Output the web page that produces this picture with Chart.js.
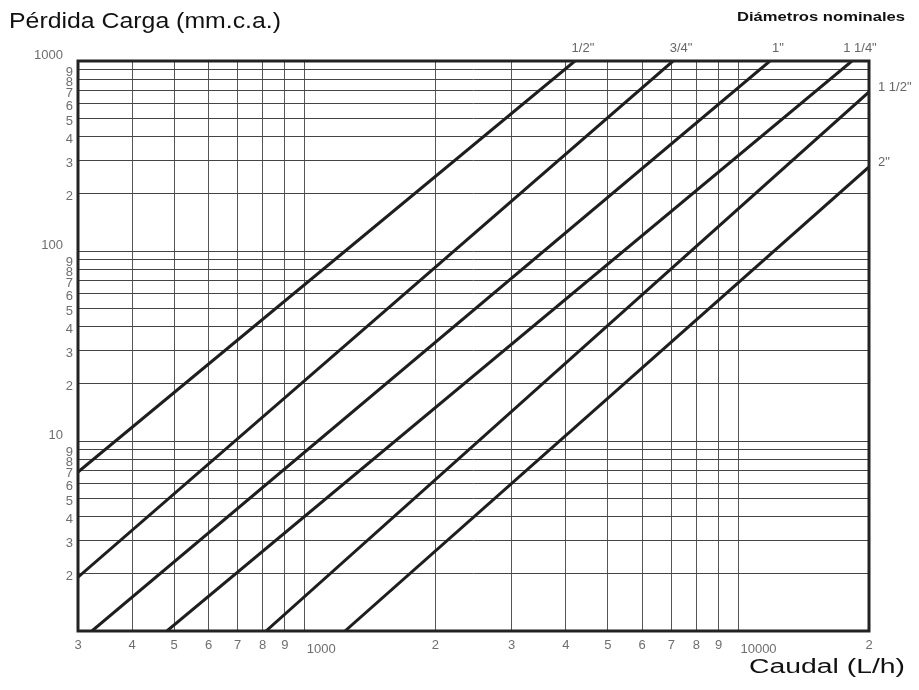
<!DOCTYPE html>
<html>
<head>
<meta charset="utf-8">
<script src="https://cdn.jsdelivr.net/npm/chart.js@4.4.0/dist/chart.umd.min.js"></script>
<style>
  body { margin: 0; background: #fff; }
  canvas { display: block; }
</style>
</head>
<body>
<canvas id="grafico" width="919" height="690"></canvas>
<script>
'use strict';

/* Datos */
const diametros = ['1/2"', '3/4"', '1"', '1 1/4"', '1 1/2"', '2"'];
const caudalInicio = [300, 300, 323, 481, 814, 1238];
const perdidaInicio = [6.87, 1.92, 1, 1, 1, 1];
const caudalFin = [4197, 7065, 11820, 18270, 20000, 20000];
const perdidaFin = [1000, 1000, 1000, 1000, 687, 277];

const ticksCaudal = [300, 400, 500, 600, 700, 800, 900, 1000, 2000, 3000, 4000,
    5000, 6000, 7000, 8000, 9000, 10000, 20000];
const ticksPerdida = [1, 2, 3, 4, 5, 6, 7, 8, 9, 10, 20, 30, 40, 50, 60, 70, 80, 90,
    100, 200, 300, 400, 500, 600, 700, 800, 900, 1000];

const datasets = diametros.map((d, i) => ({
    label: d,
    data: [{ x: caudalInicio[i], y: perdidaInicio[i] }, { x: caudalFin[i], y: perdidaFin[i] }],
    showLine: true,
    borderColor: '#1e1e1e',
    borderWidth: 3,
    pointRadius: 0
}));

function esPotencia(v) {
    return Math.abs(Math.log10(v) - Math.round(Math.log10(v))) < 1e-9;
}
function mantisa(v) {
    return String(Math.round(v / Math.pow(10, Math.floor(Math.log10(v) + 1e-9))));
}

// texto ajustado a un ancho dado
function texto(ctx, t, x, y, font, ancho, align) {
    ctx.font = font;
    const w = ctx.measureText(t).width;
    const k = ancho ? ancho / w : 1;
    ctx.save();
    ctx.translate(x, y);
    ctx.scale(k, 1);
    ctx.textAlign = align || 'left';
    ctx.fillText(t, 0, 0);
    ctx.restore();
}

/* Marco, etiquetas y titulos */
const dibujo = {
    id: 'dibujo',
    afterDraw(chart) {
        const { ctx, chartArea: a, scales: { x, y } } = chart;
        ctx.save();
        ctx.strokeStyle = '#222';
        ctx.lineWidth = 3;
        ctx.strokeRect(a.left, a.top, a.right - a.left, a.bottom - a.top);

        ctx.fillStyle = '#6e6e6e';
        ctx.textBaseline = 'middle';
        const f = '13px "Liberation Sans", Arial';
        // eje x
        ticksCaudal.forEach(v => {
            const px = x.getPixelForValue(v);
            if (esPotencia(v)) {
                texto(ctx, String(v), px + 2, a.bottom + 18, f, 0, 'left');
            } else {
                texto(ctx, mantisa(v), px, a.bottom + 14, f, 0, 'center');
            }
        });
        // eje y
        ticksPerdida.forEach(v => {
            if (v === 1) return;
            const py = y.getPixelForValue(v);
            if (esPotencia(v)) {
                texto(ctx, String(v), a.left - 15, py - 6, f, 0, 'right');
            } else {
                texto(ctx, mantisa(v), a.left - 5, py + 3, f, 0, 'right');
            }
        });

        // diametros
        ctx.fillStyle = '#666';
        diametros.forEach((d, i) => {
            const px = x.getPixelForValue(caudalFin[i]);
            const py = y.getPixelForValue(perdidaFin[i]);
            if (perdidaFin[i] >= 1000) {
                texto(ctx, d, px + 8, a.top - 13, f, 0, 'center');
            } else {
                texto(ctx, d, a.right + 9, py - 5, f, 0, 'left');
            }
        });

        // titulos
        ctx.fillStyle = '#111';
        ctx.textBaseline = 'alphabetic';
        texto(ctx, 'Pérdida Carga (mm.c.a.)', 9, 28, '22px "Liberation Sans", Arial', 272, 'left');
        texto(ctx, 'Diámetros nominales', 737, 21, 'bold 13px "Liberation Sans", Arial', 168, 'left');
        texto(ctx, 'Caudal (L/h)', 749, 673, '20px "Liberation Sans", Arial', 156, 'left');
        ctx.restore();
    }
};

const config = {
    type: 'scatter',
    data: { datasets: datasets },
    options: {
        responsive: false,
        animation: false,
        layout: {
            padding: { left: 78, top: 61, right: 50, bottom: 59 }
        },
        plugins: {
            legend: { display: false },
            tooltip: { enabled: false }
        },
        scales: {
            x: {
                type: 'logarithmic',
                min: 300,
                max: 20000,
                afterBuildTicks: s => { s.ticks = ticksCaudal.map(v => ({ value: v })); },
                ticks: { display: false },
                grid: { color: '#555', lineWidth: 1, drawTicks: false },
                border: { display: false }
            },
            y: {
                type: 'logarithmic',
                min: 1,
                max: 1000,
                afterBuildTicks: s => { s.ticks = ticksPerdida.map(v => ({ value: v })); },
                ticks: { display: false },
                grid: { color: '#444', lineWidth: 1, drawTicks: false },
                border: { display: false }
            }
        }
    },
    plugins: [dibujo]
};

new Chart(document.getElementById('grafico'), config);
</script>
</body>
</html>
